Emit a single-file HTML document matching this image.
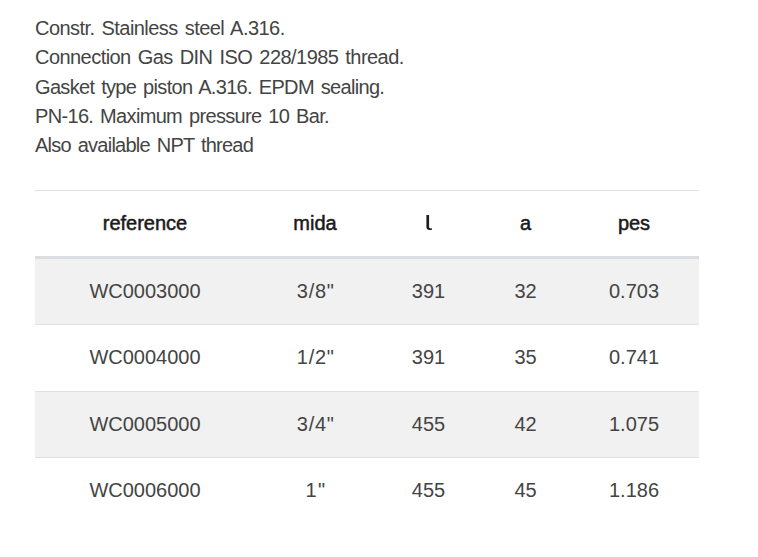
<!DOCTYPE html>
<html>
<head>
<meta charset="utf-8">
<style>
html,body{margin:0;padding:0;background:#fff;}
body{width:758px;height:557px;overflow:hidden;position:relative;font-family:"Liberation Sans",sans-serif;}
.desc{position:absolute;left:35px;top:14px;margin:0;font-size:20px;line-height:29.25px;color:#444;white-space:nowrap;}
.desc span{display:block;word-spacing:2px;}
table{position:absolute;left:35px;top:190px;width:664px;border-collapse:collapse;table-layout:fixed;}
th,td{padding:0;text-align:center;vertical-align:middle;white-space:nowrap;}
th{height:65px;font-size:20px;font-weight:normal;color:#1a1a1a;-webkit-text-stroke:0.5px #1a1a1a;border-top:1px solid #e1e1e4;border-bottom:3px solid #dcdde2;line-height:29px;}
td{font-size:20px;color:#444;line-height:29.25px;border-top:1px solid #e1e1e5;}
td.fr{letter-spacing:0.7px;padding-left:1.4px;}
td.fr1{letter-spacing:1.5px;padding-left:2px;}
tr.g td{background:#f1f1f1;}
</style>
</head>
<body>
<div class="desc"><span style="letter-spacing:-0.55px">Constr. Stainless steel A.316.</span><span style="letter-spacing:-0.55px">Connection Gas DIN ISO 228/1985 thread.</span><span style="letter-spacing:-0.68px">Gasket type piston A.316. EPDM sealing.</span><span style="letter-spacing:-0.67px">PN-16. Maximum pressure 10 Bar.</span><span style="letter-spacing:-0.75px">Also available NPT thread</span></div>
<table>
<colgroup><col style="width:220px"><col style="width:120px"><col style="width:107px"><col style="width:87px"><col style="width:130px"></colgroup>
<thead><tr><th>reference</th><th>mida</th><th><svg width="6" height="15" viewBox="0 0 6 15" style="vertical-align:baseline"><path d="M0.4,0H3.1V12Q3.1,13.2 4.3,13.2H5.8V15H3.7Q0.4,15 0.4,11.8Z" fill="#1e1e1e"/></svg></th><th>a</th><th>pes</th></tr></thead>
<tbody>
<tr class="g" style="height:67px"><td style="border-top:0">WC0003000</td><td style="border-top:0" class="fr">3/8"</td><td style="border-top:0">391</td><td style="border-top:0">32</td><td style="border-top:0">0.703</td></tr>
<tr style="height:67px"><td>WC0004000</td><td class="fr">1/2"</td><td>391</td><td>35</td><td>0.741</td></tr>
<tr class="g" style="height:66px"><td>WC0005000</td><td class="fr">3/4"</td><td>455</td><td>42</td><td>1.075</td></tr>
<tr style="height:66px"><td>WC0006000</td><td class="fr1">1"</td><td>455</td><td>45</td><td>1.186</td></tr>
</tbody>
</table>
</body>
</html>
